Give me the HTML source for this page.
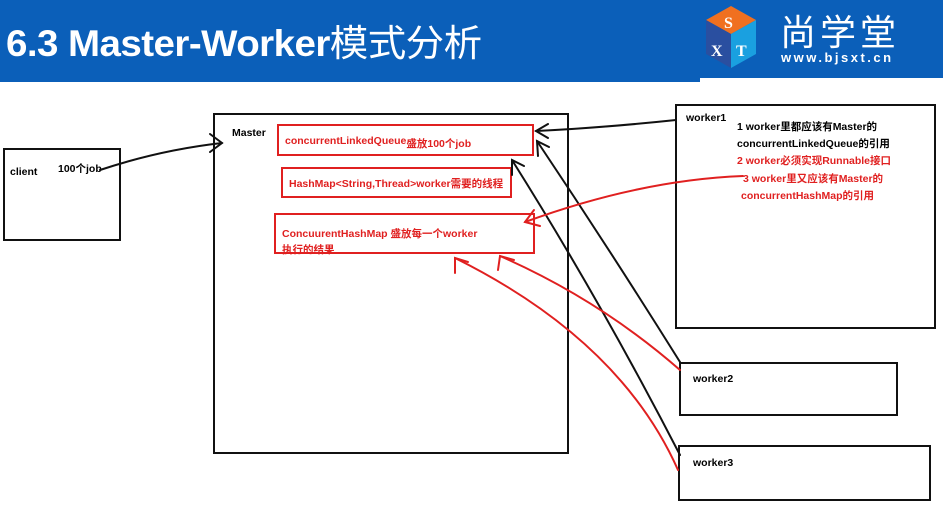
<!DOCTYPE html>
<html><head><meta charset="utf-8"><style>
body{margin:0;width:943px;height:529px;background:#fff;position:relative;overflow:hidden;font-family:"Liberation Sans","Noto Sans CJK SC",sans-serif}
.hdr{position:absolute;left:0;top:0;width:943px;height:78px;background:#0b5fb9}
.hdr2{position:absolute;left:0;top:78px;width:700px;height:4px;background:#0b5fb9}
.t{position:absolute;font-weight:bold;font-size:10.5px;white-space:nowrap}
.b{position:absolute;border:2px solid #111;box-sizing:border-box}
.r{position:absolute;border:2px solid #e02020;box-sizing:border-box}
.red{color:#e02020}
</style></head><body>
<div class="hdr"></div><div class="hdr2"></div>
<div style="position:absolute;left:6px;top:14px;color:#fff;font-size:35px;font-weight:bold;letter-spacing:-0.5px;transform:scale(1.1,1.05);transform-origin:0 0">6.3 Master-Worker<span style="font-weight:normal">模式分析</span></div>
<div style="position:absolute;left:706px;top:6px;width:50px;height:62px">
<svg width="50" height="62"><polygon points="25,0 50,14 25,28 0,14" fill="#f07020"/><polygon points="0,14 25,28 25,62 0,48" fill="#2a4fa0"/><polygon points="25,28 50,14 50,48 25,62" fill="#1aa0e0"/><text x="18" y="22" fill="#fff" font-size="16" font-weight="bold" font-family="Liberation Serif">S</text><text x="5" y="50" fill="#fff" font-size="16" font-weight="bold" font-family="Liberation Serif">X</text><text x="30" y="50" fill="#fff" font-size="16" font-weight="bold" font-family="Liberation Serif">T</text></svg></div>
<div style="position:absolute;left:780px;top:4px;color:#fff;font-size:36px;letter-spacing:4px;font-family:'Noto Sans CJK SC',sans-serif">尚学堂</div>
<div style="position:absolute;left:781px;top:50px;color:#fff;font-size:13px;font-weight:bold;letter-spacing:2.5px">www.bjsxt.cn</div>

<div class="b" style="left:3px;top:148px;width:118px;height:93px"></div>
<div class="t" style="left:10px;top:166px">client</div>
<div class="t" style="left:58px;top:161px">100个job</div>
<div class="b" style="left:213px;top:113px;width:356px;height:341px"></div>
<div class="t" style="left:232px;top:127px">Master</div>
<div class="r" style="left:277px;top:124px;width:257px;height:32px"></div>
<div class="t red" style="left:285px;top:133px">concurrentLinkedQueue<span style="position:relative;top:3px">盛放100个job</span></div>
<div class="r" style="left:281px;top:167px;width:231px;height:31px"></div>
<div class="t red" style="left:289px;top:176px">HashMap&lt;String,Thread&gt;worker需要的线程</div>
<div class="r" style="left:274px;top:213px;width:261px;height:41px"></div>
<div class="t red" style="left:282px;top:226px">ConcuurentHashMap 盛放每一个worker</div>
<div class="t red" style="left:282px;top:242px">执行的结果</div>
<div class="b" style="left:675px;top:104px;width:261px;height:225px"></div>
<div class="t" style="left:686px;top:112px">worker1</div>
<div class="t" style="left:737px;top:119px">1 worker里都应该有Master的</div>
<div class="t" style="left:737px;top:136px">concurrentLinkedQueue的引用</div>
<div class="t red" style="left:737px;top:153px">2 worker必须实现Runnable接口</div>
<div class="t red" style="left:743px;top:171px">3 worker里又应该有Master的</div>
<div class="t red" style="left:741px;top:188px">concurrentHashMap的引用</div>
<div class="b" style="left:679px;top:362px;width:219px;height:54px"></div>
<div class="t" style="left:693px;top:373px">worker2</div>
<div class="b" style="left:678px;top:445px;width:253px;height:56px"></div>
<div class="t" style="left:693px;top:457px">worker3</div>
<svg width="943" height="529" style="position:absolute;left:0;top:0" fill="none" stroke-width="2" stroke-linecap="round">
<g stroke="#111">
<path d="M100,170 Q160,150 222,143"/><path d="M210,134 L222,143 L210,152"/>
<path d="M676,120 Q600,128 536,131"/><path d="M548,124 L536,131 L548,138"/>
<path d="M680,362 Q610,250 537,141"/><path d="M538,156 L537,141 L549,147"/>
<path d="M680,455 Q600,300 512,160"/><path d="M512,175 L512,160 L524,166"/>
</g>
<g stroke="#e02020">
<path d="M743,176 Q640,180 525,222"/><path d="M534,210 L525,222 L540,226"/>
<path d="M678,470 Q620,340 455,258"/><path d="M455,273 L455,258 L468,262"/>
<path d="M680,370 Q600,300 500,256"/><path d="M498,270 L500,256 L514,260"/>
</g>
</svg>
</body></html>
